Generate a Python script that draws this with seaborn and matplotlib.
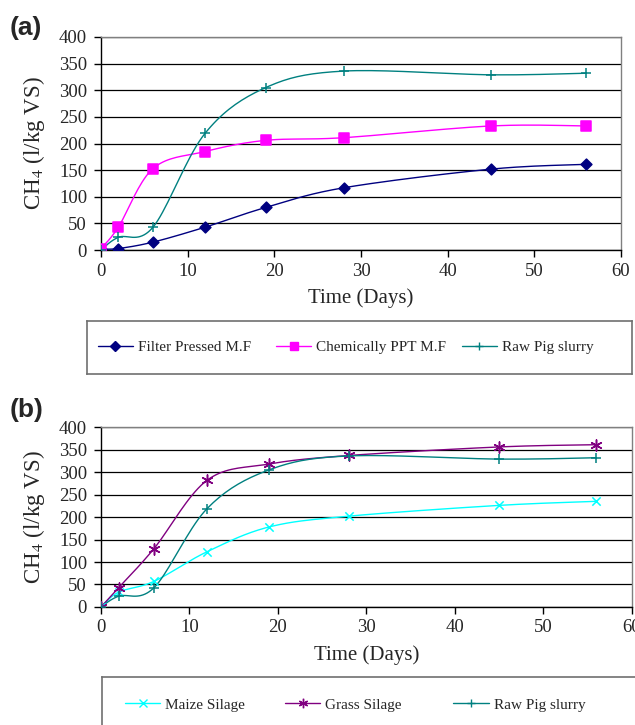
import numpy as np
import pandas as pd
import matplotlib
matplotlib.use('Agg')
import matplotlib.pyplot as plt
from matplotlib.lines import Line2D
from matplotlib.legend import Legend
import seaborn as sns

# ---------------------------------------------------------
# Data (CH4 yield, l/kg VS)
# ---------------------------------------------------------
days = [0, 2, 6, 12, 19, 28, 45, 56]

filter_pressed = [2, 3, 15, 43, 80, 117, 152, 161]
chem_ppt = [3, 43, 153, 185, 206, 211, 233, 233]
raw_pig = [0, 24, 43, 219, 305, 336, 329, 332]

maize_silage = [0, 33, 57, 123, 178, 202, 226, 235]
grass_silage = [0, 43, 130, 282, 318, 337, 356, 361]

panel_a = {'Filter Pressed M.F': filter_pressed,
           'Chemically PPT M.F': chem_ppt,
           'Raw Pig slurry': raw_pig}
panel_b = {'Maize Silage': maize_silage,
           'Grass Silage': grass_silage,
           'Raw Pig slurry': raw_pig}

styles = {
    'Filter Pressed M.F': dict(color='#000080', marker='D', ms=5.5),
    'Chemically PPT M.F': dict(color='#FF00FF', marker='s', ms=6.5),
    'Raw Pig slurry': dict(color='#008080', marker='+', ms=7),
    'Maize Silage': dict(color='#00FFFF', marker='x', ms=6),
    'Grass Silage': dict(color='#800080', marker=(6, 2, 0), ms=8),
}

sns.set_theme(style='white')
plt.rcParams['font.family'] = ['Liberation Serif', 'DejaVu Serif']
plt.rcParams['mathtext.fontset'] = 'stix'


def smooth(x, y, n=20):
    # Excel-like smoothed line (Catmull-Rom through the read points)
    p = np.column_stack([x, y]).astype(float)
    p = np.vstack([p[0], p, p[-1]])
    out = []
    for i in range(1, len(p) - 2):
        p0, p1, p2, p3 = p[i - 1], p[i], p[i + 1], p[i + 2]
        t = np.linspace(0, 1, n)[:, None]
        seg = 0.5 * ((2 * p1) + (-p0 + p2) * t
                     + (2 * p0 - 5 * p1 + 4 * p2 - p3) * t ** 2
                     + (-p0 + 3 * p1 - 3 * p2 + p3) * t ** 3)
        out.append(seg)
    s = np.vstack(out)
    return s[:, 0], s[:, 1]


def draw_panel(ax, series, label_x):
    for name, vals in series.items():
        st = styles[name]
        sx, sy = smooth(days, vals)
        ax.plot(sx, sy, color=st['color'], lw=1.0, zorder=3)
        df = pd.DataFrame({'day': days, 'ch4': vals})
        filled = st['marker'] in ('D', 's')
        sns.scatterplot(data=df, x='day', y='ch4', ax=ax, marker=st['marker'],
                        s=st['ms'] ** 2, color=st['color'],
                        edgecolor=st['color'] if filled else None,
                        linewidth=1.1, zorder=4, legend=False)
    ax.set_xlim(0, 60)
    ax.set_ylim(0, 400)
    ax.set_xticks(range(0, 61, 10))
    ax.set_yticks(range(0, 401, 50))
    ax.yaxis.grid(True, color='black', lw=0.9)
    ax.set_axisbelow(True)
    for side in ('top', 'right'):
        ax.spines[side].set_color('#808080')
    for side in ('left', 'bottom'):
        ax.spines[side].set_color('black')
    for sp in ax.spines.values():
        sp.set_linewidth(1.0)
    ax.tick_params(axis='both', direction='out', length=5, width=1,
                   color='black', labelsize=13.5, bottom=True, left=True)
    ax.tick_params(axis='y', pad=5)
    ax.tick_params(axis='x', pad=4)
    ax.set_xlabel('Time (Days)', fontsize=15, labelpad=6)
    ax.set_ylabel(r'CH$_4$ (l/kg VS)', fontsize=16.5)
    ax.yaxis.set_label_coords(label_x, 0.5)


def legend_box(fig, rect, series, xs):
    lax = fig.add_axes(rect)
    lax.set_xticks([])
    lax.set_yticks([])
    for sp in lax.spines.values():
        sp.set_color('#707070')
        sp.set_linewidth(1.2)
    for name, x0 in zip(series, xs):
        st = styles[name]
        h = Line2D([], [], color=st['color'], lw=1.0, marker=st['marker'],
                   ms=st['ms'] * 0.85, mfc=st['color'], mec=st['color'])
        leg = Legend(lax, [h], [name], loc='center left', bbox_to_anchor=(x0, 0.5),
                     frameon=False, fontsize=11, handlelength=2.3,
                     handletextpad=0.33, borderpad=0, borderaxespad=0)
        lax.add_artist(leg)
    return lax


fig = plt.figure(figsize=(6.35, 7.25), dpi=100)

ax_a = fig.add_axes([0.159, 0.655, 0.819, 0.294])
draw_panel(ax_a, panel_a, -0.104)
ax_b = fig.add_axes([0.159, 0.1628, 0.836, 0.248])
draw_panel(ax_b, panel_b, -0.102)

legend_box(fig, [0.137, 0.484, 0.858, 0.073], panel_a, [0.020, 0.347, 0.688])
legend_box(fig, [0.161, -0.01, 0.86, 0.076], panel_b, [0.042, 0.335, 0.643])

fig.text(0.015, 0.962, '(a)', fontsize=19, fontweight='bold',
         family='Liberation Sans', va='center', ha='left')
fig.text(0.015, 0.435, '(b)', fontsize=19, fontweight='bold',
         family='Liberation Sans', va='center', ha='left')

fig.savefig('out.png', dpi=100)
